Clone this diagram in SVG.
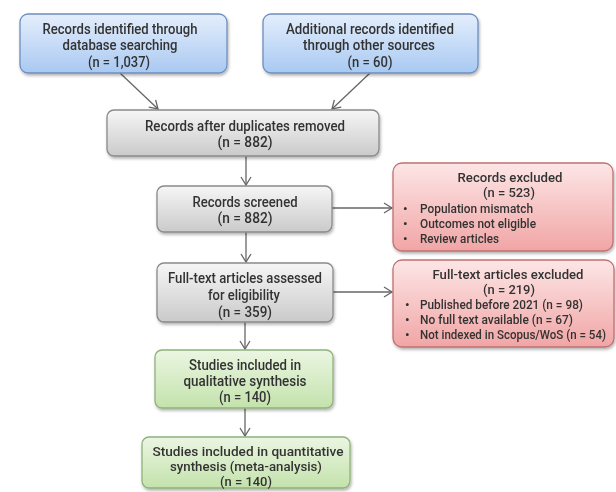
<svg xmlns="http://www.w3.org/2000/svg" width="616" height="492" viewBox="0 0 616 492">
<style>
text{font-family:Roboto,"Liberation Sans",sans-serif;fill:#333;font-size:14.5px;font-weight:500;text-anchor:middle}
.l{text-anchor:start;font-size:13px}
.s{font-size:13.5px}
.c{stroke:#666;stroke-width:1.3;fill:none;marker-end:url(#ah)}
.blue{fill:url(#gb);stroke:#6d8fbf;stroke-width:1.3}
.gray{fill:url(#gg);stroke:#8a8a8a;stroke-width:1.3}
.red{fill:url(#gr);stroke:#c07070;stroke-width:1.3}
.green{fill:url(#gn);stroke:#8fb27a;stroke-width:1.3}
.box{filter:url(#sh)}
</style>
<defs>
<marker id="ah" markerWidth="12" markerHeight="12" viewBox="0 0 12 12" refX="10" refY="6" orient="auto" markerUnits="userSpaceOnUse">
<path d="M2,1 L10,6 L2,11" fill="none" stroke="#666" stroke-width="1.3"/>
</marker>
<linearGradient id="gb" x1="0" y1="0" x2="0" y2="1"><stop offset="0" stop-color="#e4eefc"/><stop offset="1" stop-color="#a9c9f2"/></linearGradient>
<linearGradient id="gg" x1="0" y1="0" x2="0" y2="1"><stop offset="0" stop-color="#f6f6f6"/><stop offset="1" stop-color="#cacaca"/></linearGradient>
<linearGradient id="gr" x1="0" y1="0" x2="0" y2="1"><stop offset="0" stop-color="#fde6e6"/><stop offset="1" stop-color="#f1a5a5"/></linearGradient>
<linearGradient id="gn" x1="0" y1="0" x2="0" y2="1"><stop offset="0" stop-color="#ebf6e2"/><stop offset="1" stop-color="#c3e2ac"/></linearGradient>
<filter id="sh" x="-10%" y="-10%" width="120%" height="130%"><feDropShadow dx="1" dy="2" stdDeviation="1.5" flood-color="#000" flood-opacity="0.3"/></filter>
</defs>

<g id="connectors">
<line class="c" x1="120" y1="73" x2="158" y2="109"/>
<line class="c" x1="370" y1="73" x2="332" y2="109"/>
<line class="c" x1="246" y1="156" x2="246" y2="185"/>
<line class="c" x1="332" y1="208" x2="392" y2="208"/>
<line class="c" x1="246" y1="232" x2="246" y2="262"/>
<line class="c" x1="333" y1="292" x2="392" y2="292"/>
<line class="c" x1="245" y1="322" x2="245" y2="349"/>
<line class="c" x1="245" y1="408" x2="245" y2="436"/>
</g>

<g id="n1" class="box"><rect class="blue" x="20" y="14" width="207" height="59" rx="8"/>
<text x="120" y="34" textLength="155" lengthAdjust="spacingAndGlyphs">Records identified through</text><text x="120" y="50" textLength="115" lengthAdjust="spacingAndGlyphs">database searching</text><text x="119" y="67" textLength="62" lengthAdjust="spacingAndGlyphs">(n = 1,037)</text></g>

<g id="n2" class="box"><rect class="blue" x="263" y="14" width="215" height="59" rx="8"/>
<text x="370" y="34" textLength="168" lengthAdjust="spacingAndGlyphs">Additional records identified</text><text x="369" y="50" textLength="132" lengthAdjust="spacingAndGlyphs">through other sources</text><text x="370" y="67" textLength="45" lengthAdjust="spacingAndGlyphs">(n = 60)</text></g>

<g id="n3" class="box"><rect class="gray" x="107" y="110" width="272" height="46" rx="7"/>
<text x="245" y="131" textLength="200" lengthAdjust="spacingAndGlyphs">Records after duplicates removed</text><text x="245" y="147" textLength="55" lengthAdjust="spacingAndGlyphs">(n = 882)</text></g>

<g id="n4" class="box"><rect class="gray" x="157" y="186" width="175" height="46" rx="7"/>
<text x="245" y="207" textLength="105" lengthAdjust="spacingAndGlyphs">Records screened</text><text x="245" y="223" textLength="55" lengthAdjust="spacingAndGlyphs">(n = 882)</text></g>

<g id="n5" class="box"><rect class="red" x="393" y="163" width="220" height="88" rx="9"/>
<text class="s" x="510" y="182" textLength="105" lengthAdjust="spacingAndGlyphs">Records excluded</text><text class="s" x="509" y="197" textLength="52" lengthAdjust="spacingAndGlyphs">(n = 523)</text>
<text class="l" x="403" y="213">•</text><text class="l" x="420" y="213" textLength="113" lengthAdjust="spacingAndGlyphs">Population mismatch</text>
<text class="l" x="403" y="228">•</text><text class="l" x="420" y="228" textLength="116" lengthAdjust="spacingAndGlyphs">Outcomes not eligible</text>
<text class="l" x="403" y="243">•</text><text class="l" x="420" y="243" textLength="79" lengthAdjust="spacingAndGlyphs">Review articles</text></g>

<g id="n6" class="box"><rect class="red" x="393" y="260" width="221" height="87" rx="9"/>
<text class="s" x="508" y="279" textLength="151" lengthAdjust="spacingAndGlyphs">Full-text articles excluded</text><text class="s" x="509" y="294" textLength="52" lengthAdjust="spacingAndGlyphs">(n = 219)</text>
<text class="l" x="405" y="309">•</text><text class="l" x="420" y="309" textLength="163" lengthAdjust="spacingAndGlyphs">Published before 2021 (n = 98)</text>
<text class="l" x="405" y="324">•</text><text class="l" x="420" y="324" textLength="153" lengthAdjust="spacingAndGlyphs">No full text available (n = 67)</text>
<text class="l" x="405" y="339">•</text><text class="l" x="420" y="339" textLength="186" lengthAdjust="spacingAndGlyphs">Not indexed in Scopus/WoS (n = 54)</text></g>

<g id="n7" class="box"><rect class="gray" x="157" y="263" width="176" height="59" rx="7"/>
<text x="245" y="283" textLength="154" lengthAdjust="spacingAndGlyphs">Full-text articles assessed</text><text x="244" y="300" textLength="72" lengthAdjust="spacingAndGlyphs">for eligibility</text><text x="245" y="317" textLength="54" lengthAdjust="spacingAndGlyphs">(n = 359)</text></g>

<g id="n8" class="box"><rect class="green" x="155" y="350" width="178" height="58" rx="7"/>
<text x="245" y="370" textLength="112" lengthAdjust="spacingAndGlyphs">Studies included in</text><text x="245" y="386" textLength="123" lengthAdjust="spacingAndGlyphs">qualitative synthesis</text><text x="245" y="402" textLength="52" lengthAdjust="spacingAndGlyphs">(n = 140)</text></g>

<g id="n9" class="box"><rect class="green" x="142" y="437" width="208" height="51" rx="7"/>
<text class="s" x="248" y="456" textLength="191" lengthAdjust="spacingAndGlyphs">Studies included in quantitative</text><text class="s" x="246" y="471" textLength="152" lengthAdjust="spacingAndGlyphs">synthesis (meta-analysis)</text><text class="s" x="246" y="486" textLength="52" lengthAdjust="spacingAndGlyphs">(n = 140)</text></g>
</svg>
